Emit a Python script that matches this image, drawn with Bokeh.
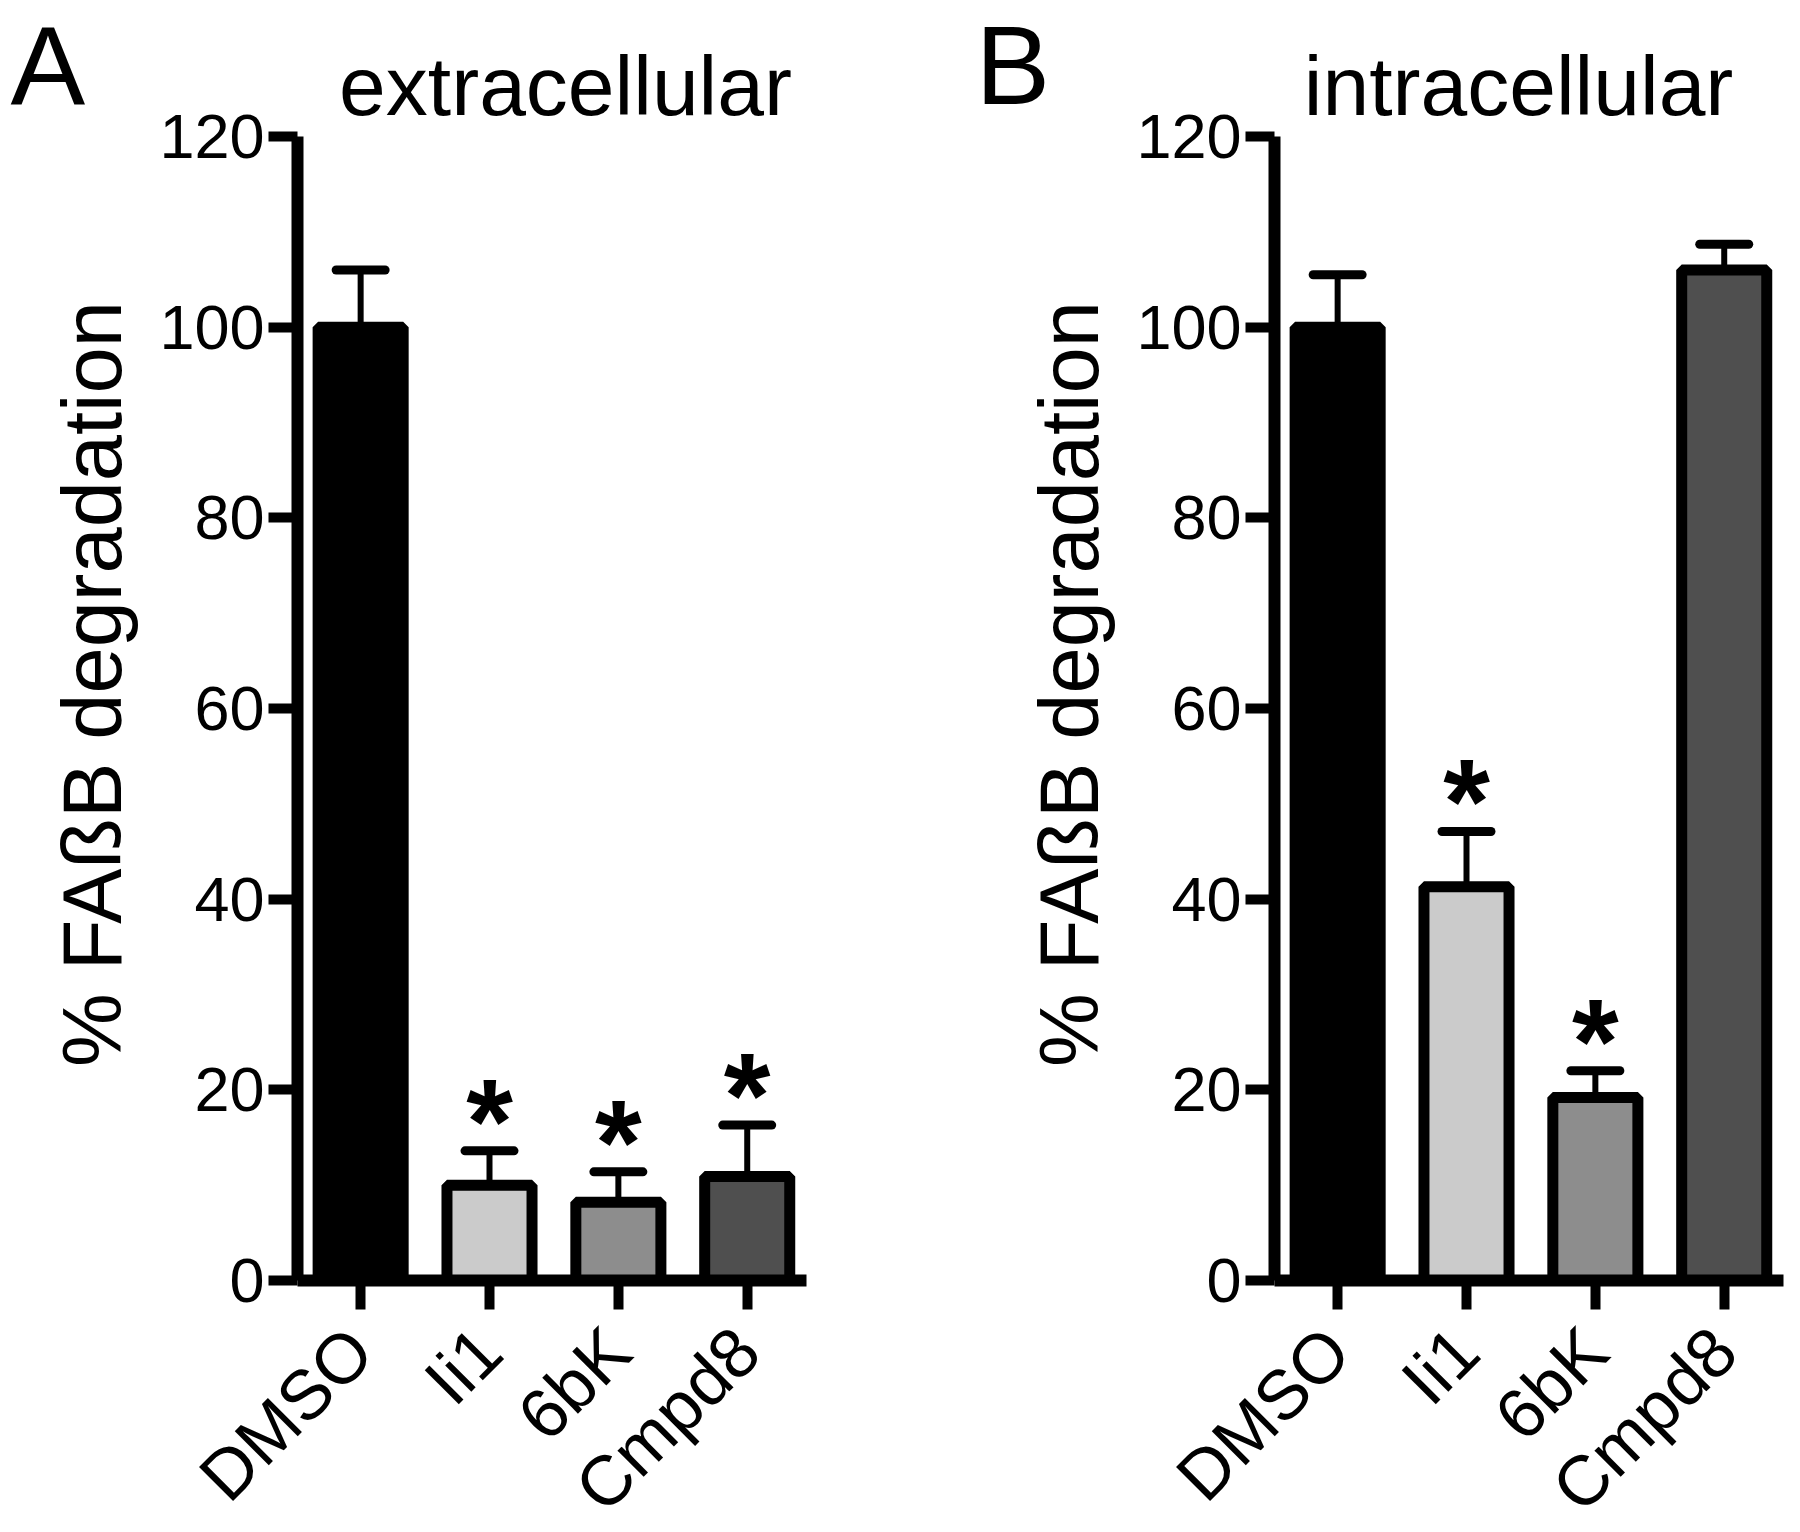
from bokeh.plotting import figure
from bokeh.models import Range1d, FixedTicker, ColumnDataSource
from bokeh.layouts import row
from bokeh.embed import file_html
from bokeh.resources import INLINE
from bokeh.core.properties import value

# ---------------- data ----------------
categories = ["DMSO", "Ii1", "6bK", "Cmpd8"]
y_ticks = [0, 20, 40, 60, 80, 100, 120]

extracellular_mean = [100.0, 10.0, 8.2, 10.9]
extracellular_sem = [6.0, 3.6, 3.2, 5.4]
extracellular_sig = [False, True, True, True]

intracellular_mean = [100.0, 41.3, 19.2, 106.0]
intracellular_sem = [5.5, 5.8, 2.8, 2.7]
intracellular_sig = [False, True, True, False]

panel_letters = ["A", "B"]
panel_titles = ["extracellular", "intracellular"]
y_label = "% FAßB degradation"

bar_colors = ["#000000", "#cbcbcb", "#8d8d8d", "#4f4f4f"]
FONT = "Liberation Sans"

# ---------------- layout constants (pixels) ----------------
TOTAL_H = 1520
FRAME_H = 1280
FRAME_W = 509
AXIS_BORDER = 147
SIDE_A = (0, 150)
SIDE_B = (826, 1127)
RIGHT_A = 20
RIGHT_B = 5
Y_END = 134.27          # frame reaches the top of the page; axis drawn 0..120
LETTER_Y = 80           # px from top
YLABEL_Y = 836          # px from top


def make_side(x0, x1, letter, letter_x, label_x):
    f = figure(
        output_backend="svg", toolbar_location=None,
        width=x1 - x0, height=TOTAL_H,
        x_range=Range1d(x0, x1), y_range=Range1d(0, TOTAL_H),
        x_axis_type=None, y_axis_type=None, min_border=0,
    )
    f.outline_line_color = None
    f.grid.visible = False
    f.text(x=[letter_x], y=[TOTAL_H - LETTER_Y], text=[letter], text_align="left",
           text_baseline="alphabetic", text_font=value(FONT),
           text_font_size="112px", text_color="black")
    f.text(x=[label_x], y=[TOTAL_H - YLABEL_Y], text=[y_label], angle=1.5707963267948966,
           text_align="center", text_baseline="alphabetic", text_font=value(FONT),
           text_font_size="83px", text_color="black")
    return f


def make_panel(title, title_x, means, sems, sig, right_border):
    xs = list(range(len(categories)))
    p = figure(
        output_backend="svg", toolbar_location=None,
        frame_width=FRAME_W, frame_height=FRAME_H,
        min_border_left=AXIS_BORDER, min_border_top=0,
        min_border_right=right_border, min_border_bottom=TOTAL_H - FRAME_H,
        x_range=Range1d(-0.49, 3.46), y_range=Range1d(0, Y_END),
        background_fill_color="white", border_fill_color="white",
    )
    p.outline_line_color = None
    p.grid.visible = False

    # bars
    src = ColumnDataSource(dict(x=xs, top=means, color=bar_colors))
    p.vbar(x="x", top="top", bottom=0, width=0.66, source=src,
           fill_color="color", line_color="black", line_width=11)

    # error bars (upper only)
    upper = [m + s for m, s in zip(means, sems)]
    p.segment(x0=xs, y0=means, x1=xs, y1=upper, line_color="black", line_width=6)
    p.segment(x0=[x - 0.19 for x in xs], y0=upper, x1=[x + 0.19 for x in xs], y1=upper,
              line_color="black", line_width=9, line_cap="round")

    # significance asterisks
    sx = [x for x, s in zip(xs, sig) if s]
    sy = [u for u, s in zip(upper, sig) if s]
    p.text(x=sx, y=sy, text=["*"] * len(sx), text_align="center",
           text_baseline="alphabetic", y_offset=-30,
           text_font=value(FONT), text_font_style="bold", text_font_size="120px",
           text_color="black")

    # panel title
    p.text(x=[title_x], y=[122.1], text=[title], text_align="center",
           text_baseline="alphabetic", y_offset=-31,
           text_font=value(FONT), text_font_size="84px", text_color="black")

    # axes
    for ax in (p.xaxis[0], p.yaxis[0]):
        ax.axis_line_width = 12
        ax.axis_line_color = "black"
        ax.major_tick_line_width = 10
        ax.major_tick_line_color = "black"
        ax.major_tick_out = 29
        ax.major_tick_in = 0
        ax.minor_tick_out = 0
        ax.minor_tick_in = 0
        ax.major_label_text_font = FONT
        ax.major_label_text_color = "black"

    p.yaxis.ticker = FixedTicker(ticks=y_ticks)
    p.yaxis.bounds = (0, 120)
    p.yaxis.major_label_text_font_size = "63px"
    p.yaxis.major_label_standoff = 4

    p.xaxis.ticker = FixedTicker(ticks=xs)
    p.xaxis.major_label_overrides = {i: c for i, c in enumerate(categories)}
    p.xaxis.major_label_text_font_size = "70px"
    p.xaxis.major_label_orientation = 0.7853981633974483
    p.xaxis.major_label_standoff = 30
    return p


sideA = make_side(SIDE_A[0], SIDE_A[1], panel_letters[0], 10, 92)
pA = make_panel(panel_titles[0], 1.590, extracellular_mean, extracellular_sem,
                extracellular_sig, RIGHT_A)
sideB = make_side(SIDE_B[0], SIDE_B[1], panel_letters[1], 975, 1069)
pB = make_panel(panel_titles[1], 1.404, intracellular_mean, intracellular_sem,
                intracellular_sig, RIGHT_B)

layout = row(sideA, pA, sideB, pB, spacing=0)
open("out.html", "w").write(file_html(layout, INLINE))
